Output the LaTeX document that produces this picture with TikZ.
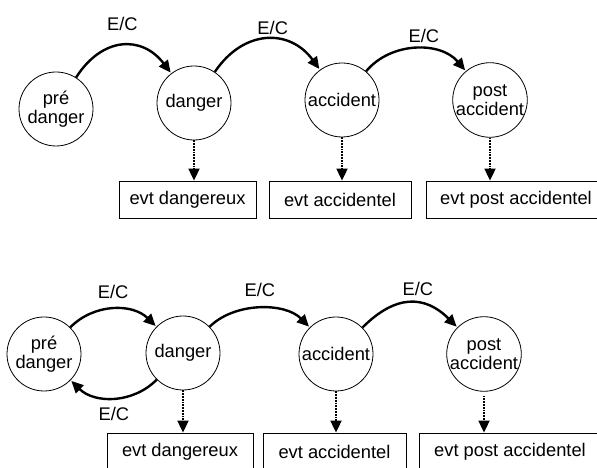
\documentclass[tikz,border=0pt]{standalone}
\usepackage{fontspec}
\setmainfont{Liberation Sans}
\usetikzlibrary{positioning,arrows.meta}

\tikzset{
  etat/.style={circle,draw,line width=0.8pt,inner sep=0pt,minimum size=74pt,align=center},
  evt/.style={rectangle,draw,line width=0.8pt,minimum height=37pt,inner sep=0pt},
  trans/.style={line width=2.4pt,shorten >=1pt,-{Triangle[length=12pt,width=11pt]}},
  sortie/.style={line width=1.8pt,densely dotted,-{Triangle[length=12pt,width=11pt]}},
  lbl/.style={inner sep=1pt}
}

\begin{document}
\begin{tikzpicture}[x=1pt,y=1pt,on grid,font=\fontsize{18.3}{18.5}\selectfont]
  \useasboundingbox (0,0) rectangle (597,468);
  \clip (0,0) rectangle (597,468);

  % chaine sans retour
  \node[etat] (pd1) at (56,359) {pré\\danger};
  \node[etat] (d1) [above right=6pt and 138pt of pd1] {danger};
  \node[etat] (a1) [above right=3pt and 148pt of d1] {accident};
  \node[etat] (p1) [right=148pt of a1] {post\\accident};

  \node[evt,minimum width=137pt] (e1) at (187.5,268.5) {evt dangereux};
  \node[evt,minimum width=142pt] (e2) [right=152.5pt of e1] {evt accidentel};
  \node[evt,minimum width=180pt] (e3) [right=176pt of e2] {evt post accidentel};

  \path[trans]
    (pd1) edge [bend left=55,looseness=1.3] node[lbl,above=13pt] {E/C} (d1)
    (d1) edge [bend left=55,looseness=1.25] node[lbl,above=2pt,xshift=6pt] {E/C} (a1)
    (a1) edge [bend left=50] node[lbl,above=4pt,xshift=8pt] {E/C} (p1);

  \draw[sortie] (d1.south) -- (d1.south |- e1.north);
  \draw[sortie] (a1.south) -- (a1.south |- e2.north);
  \draw[sortie] (p1.south) -- (p1.south |- e3.north);

  % chaine avec retour au pre danger
  \node[etat] (pd2) at (44,114) {pré\\danger};
  \node[etat] (d2) [above right=1pt and 139pt of pd2] {danger};
  \node[etat] (a2) [below right=1pt and 153pt of d2] {accident};
  \node[etat] (p2) [right=148pt of a2] {post\\accident};

  \node[evt,minimum width=146pt] (f1) at (180,16.5) {evt dangereux};
  \node[evt,minimum width=143pt] (f2) [right=154.5pt of f1] {evt accidentel};
  \node[evt,minimum width=182pt] (f3) [right=175.5pt of f2] {evt post accidentel};

  \path[trans]
    (pd2) edge [bend left=45] node[lbl,above=8pt] {E/C} (d2)
    (d2) edge [bend left=45] node[lbl,below=7pt] {E/C} (pd2)
    (d2) edge [bend left=45,looseness=0.9] node[lbl,above=9pt] {E/C} (a2)
    (a2) edge [bend left=45,looseness=1.25] node[lbl,above=5pt,xshift=8pt] {E/C} (p2);

  \draw[sortie] (d2.south) -- (d2.south |- f1.north);
  \draw[sortie] (a2.south) -- (a2.south |- f2.north);
  \draw[sortie,shorten <=4pt] (p2.south) -- (p2.south |- f3.north);
\end{tikzpicture}
\end{document}
